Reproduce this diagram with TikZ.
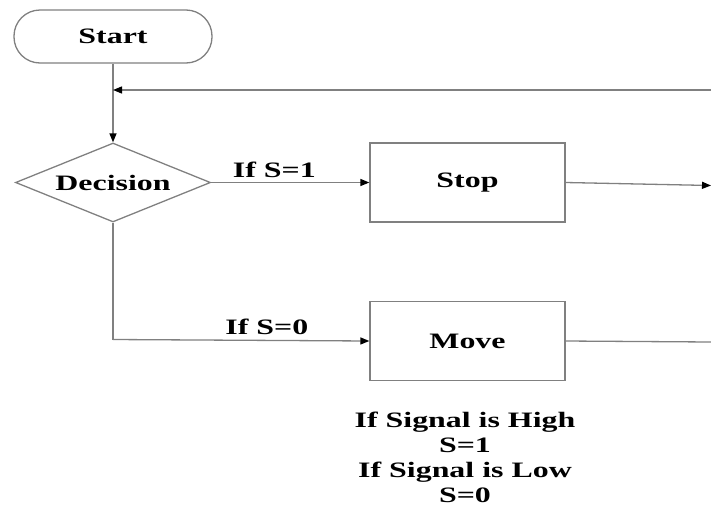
\documentclass[tikz,border=0pt]{standalone}
\usepackage{fontspec}
\setmainfont[FakeStretch=1.45]{Liberation Serif}
\usetikzlibrary{shapes.geometric,arrows.meta}
\begin{document}
\begin{tikzpicture}[x=1pt,y=-1pt,
  line/.style={draw=black!50,line width=1.3pt},
  arr/.style={line,-{Triangle[length=9pt,width=7pt,fill=black,color=black]}},
  lbl/.style={font=\fontsize{22}{25}\selectfont\bfseries,text=black},
  terminal/.style={line,lbl,rounded corners=26pt,minimum width=198pt,minimum height=53pt,inner sep=0pt},
  decision/.style={line,lbl,diamond,aspect=2.47,minimum width=195pt,minimum height=79pt,inner sep=0pt},
  process/.style={line,lbl,rectangle,minimum width=195pt,minimum height=79pt,inner sep=0pt}]
\useasboundingbox (0,0) rectangle (711,509);

\node[terminal] (start) at (113,36.5) {Start};
\node[decision] (dec) at (113,182.5) {Decision};
\node[process] (stop) at (467.5,182.5) {Stop};
\node[process] (move) at (467.5,341) {Move};

\coordinate (fbin) at (711,90);
\coordinate (fbout) at (113,90);
\coordinate (stopout) at (711,185.5);
\coordinate (moveout) at (711,342);
\coordinate (bend) at (113,339.5);

% flow from start into the decision
\draw[line] (start.south) -- (fbout);
\draw[arr] (fbout) -- (dec.north);
% loop returning from the right
\draw[arr] (fbin) -- (fbout);
% branches of the decision
\draw[arr] (dec.east) -- node[lbl,above=1pt,pos=0.4] {If S=1} (stop.west);
\draw[line] (dec.south) -- (bend);
\draw[arr] (bend) -- node[lbl,above=2pt,pos=0.6] {If S=0} (move.west);
% outputs leaving to the right
\draw[arr] (stop.east) -- (stopout);
\draw[line] (move.east) -- (moveout);

\node[lbl,align=center] (note) at (465,457) {If Signal is High\\S=1\\If Signal is Low\\S=0};
\end{tikzpicture}
\end{document}
